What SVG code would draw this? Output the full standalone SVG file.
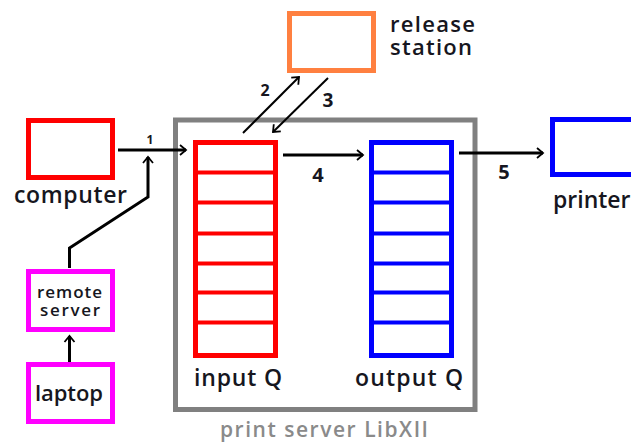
<svg xmlns="http://www.w3.org/2000/svg" width="631" height="442" viewBox="0 0 631 442">
  <style>
    .box { fill: #fff; stroke-width: 5; }
    .red { stroke: #ff0000; }
    .blue { stroke: #0000ff; }
    .mag { stroke: #ff00ff; }
    .orange { stroke: #ff8040; }
    .gray { stroke: #808080; }
    .sep { stroke-width: 4; }
    .lbl { font-family: "Open Sans", "Noto Sans", sans-serif; font-weight: 600; fill: #161620; }
    .caption { fill: #8a8a8a; }
    .num { font-family: "Open Sans", "Noto Sans", sans-serif; font-weight: 700; fill: #161620; }
    .wire { fill: none; stroke: #000; stroke-width: 3; }
    .thin { fill: none; stroke: #000; stroke-width: 2; }
  </style>
  <defs>
    <marker id="head" markerUnits="userSpaceOnUse" markerWidth="12" markerHeight="14" refX="8" refY="7" orient="auto">
      <polyline points="2,2 8,7 2,12" fill="none" stroke="#000" stroke-width="1.8"/>
    </marker>
  </defs>

  <g id="print-server">
    <rect class="box gray" x="175.5" y="120" width="299.5" height="289.5"/>
    <text class="lbl caption" x="220" y="437" font-size="21" textLength="208">print server LibXII</text>
  </g>

  <g id="computer">
    <rect class="box red" x="28.5" y="120.5" width="84" height="57"/>
    <text class="lbl" x="14" y="203" font-size="23" textLength="113">computer</text>
  </g>

  <g id="remote-server">
    <rect class="box mag" x="28.5" y="271.5" width="84" height="58"/>
    <text class="lbl" x="37" y="298" font-size="17" textLength="65">remote</text>
    <text class="lbl" x="40" y="316" font-size="17" textLength="60">server</text>
  </g>

  <g id="laptop">
    <rect class="box mag" x="28.5" y="364.5" width="84" height="57"/>
    <text class="lbl" x="35" y="401" font-size="22" textLength="68">laptop</text>
  </g>

  <g id="release-station">
    <rect class="box orange" x="289.5" y="13.5" width="84" height="57"/>
    <text class="lbl" x="390" y="32" font-size="22" textLength="85">release</text>
    <text class="lbl" x="390" y="55" font-size="22" textLength="82">station</text>
  </g>

  <g id="input-q">
    <rect class="box red" x="195.5" y="142.5" width="80" height="213"/>
    <g class="red sep">
      <line x1="195.5" y1="172.5" x2="275.5" y2="172.5"/>
      <line x1="195.5" y1="202.5" x2="275.5" y2="202.5"/>
      <line x1="195.5" y1="233.5" x2="275.5" y2="233.5"/>
      <line x1="195.5" y1="263.5" x2="275.5" y2="263.5"/>
      <line x1="195.5" y1="292.5" x2="275.5" y2="292.5"/>
      <line x1="195.5" y1="322.5" x2="275.5" y2="322.5"/>
    </g>
    <text class="lbl" x="194" y="386" font-size="23" textLength="88">input Q</text>
  </g>

  <g id="output-q">
    <rect class="box blue" x="371.5" y="142.5" width="80" height="213"/>
    <g class="blue sep">
      <line x1="371.5" y1="172.5" x2="451.5" y2="172.5"/>
      <line x1="371.5" y1="202.5" x2="451.5" y2="202.5"/>
      <line x1="371.5" y1="233.5" x2="451.5" y2="233.5"/>
      <line x1="371.5" y1="263.5" x2="451.5" y2="263.5"/>
      <line x1="371.5" y1="292.5" x2="451.5" y2="292.5"/>
      <line x1="371.5" y1="322.5" x2="451.5" y2="322.5"/>
    </g>
    <text class="lbl" x="355" y="386" font-size="23" textLength="108">output Q</text>
  </g>

  <g id="printer">
    <rect class="box blue" x="552.5" y="119.5" width="84" height="55"/>
    <text class="lbl" x="553" y="208" font-size="23">printer</text>
  </g>

  <g id="connectors">
    <line class="wire" x1="118" y1="150" x2="186" y2="150" marker-end="url(#head)"/>
    <polyline class="wire" points="69.5,268 69.5,248 148,197 148,157" marker-end="url(#head)"/>
    <line class="wire" x1="69.5" y1="362" x2="69.5" y2="336" marker-end="url(#head)"/>
    <line class="thin" x1="243" y1="133" x2="299" y2="77" marker-end="url(#head)"/>
    <line class="thin" x1="328" y1="78" x2="273" y2="132" marker-end="url(#head)"/>
    <line class="wire" x1="283" y1="155" x2="363" y2="155" marker-end="url(#head)"/>
    <line class="wire" x1="459" y1="153" x2="543" y2="153" marker-end="url(#head)"/>
    <text class="num" x="150" y="144" font-size="12" text-anchor="middle">1</text>
    <text class="num" x="265" y="96" font-size="16" text-anchor="middle">2</text>
    <text class="num" x="328" y="107" font-size="19" text-anchor="middle">3</text>
    <text class="num" x="318" y="182" font-size="20" text-anchor="middle">4</text>
    <text class="num" x="504" y="179" font-size="20" text-anchor="middle">5</text>
  </g>
</svg>
